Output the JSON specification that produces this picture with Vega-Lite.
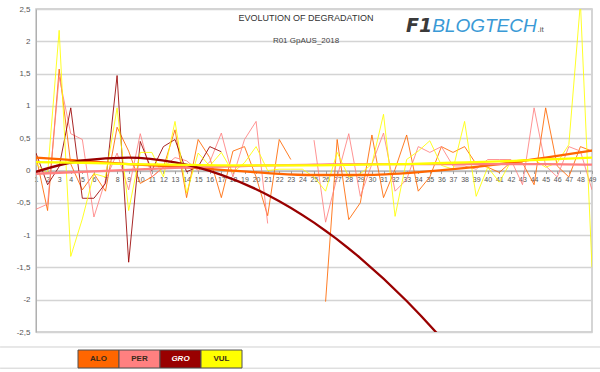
{
  "$schema": "https://vega.github.io/schema/vega-lite/v6.json",
  "width": 556,
  "height": 323,
  "autosize": {"type": "none"},
  "padding": {"left": 36, "top": 9, "right": 8, "bottom": 40},
  "background": "white",
  "config": {
    "view": {"stroke": "#c8c8c8", "strokeWidth": 1.5},
    "font": "Liberation Sans",
    "axisX": {"labelOverlap": false, "labelFlush": false, "labelBound": false},
    "axisY": {"labelOverlap": false, "labelFlush": false, "labelBound": false}
  },
  "title": {
    "text": "EVOLUTION OF DEGRADATION",
    "subtitle": "R01 GpAUS_2018",
    "anchor": "middle",
    "frame": "group",
    "offset": -40,
    "dx": -8,
    "fontSize": 9,
    "fontWeight": "normal",
    "color": "#333333",
    "font": "Liberation Sans",
    "subtitleFont": "Liberation Sans",
    "subtitleFontSize": 8,
    "subtitleColor": "#444444",
    "subtitlePadding": 14
  },
  "datasets": {
    "series": [
      {"x": 1, "ALO": 0.22, "PER": -0.6, "GRO": 0.27, "VUL": 0.1},
      {"x": 2, "ALO": -0.62, "PER": -0.52, "GRO": -0.22, "VUL": -0.05},
      {"x": 3, "ALO": 1.57, "PER": 1.45, "GRO": 0.06, "VUL": 2.17},
      {"x": 4, "ALO": 0.1, "PER": 0.57, "GRO": 0.97, "VUL": -1.33},
      {"x": 5, "ALO": -0.3, "PER": 0.48, "GRO": -0.43, "VUL": -0.75},
      {"x": 6, "ALO": -0.05, "PER": -0.72, "GRO": -0.43, "VUL": -0.05},
      {"x": 7, "ALO": -0.32, "PER": -0.15, "GRO": -0.2, "VUL": -0.1},
      {"x": 8, "ALO": 0.67, "PER": 0.27, "GRO": 1.47, "VUL": 0.97},
      {"x": 9, "ALO": 0.3, "PER": -0.3, "GRO": -1.42, "VUL": -0.62},
      {"x": 10, "ALO": -0.2, "PER": 0.57, "GRO": 0.45, "VUL": 0.28},
      {"x": 11, "ALO": -0.1, "PER": -0.1, "GRO": 0.0, "VUL": 0.28},
      {"x": 12, "ALO": 0.05, "PER": 0.05, "GRO": 0.37, "VUL": -0.1},
      {"x": 13, "ALO": 0.63, "PER": 0.2, "GRO": 0.48, "VUL": 0.76},
      {"x": 14, "ALO": -0.42, "PER": 0.15, "GRO": -0.02, "VUL": -0.35},
      {"x": 15, "ALO": 0.48, "PER": 0.0, "GRO": 0.06, "VUL": 0.27},
      {"x": 16, "ALO": 0.2, "PER": 0.13, "GRO": 0.37, "VUL": 0.07},
      {"x": 17, "ALO": -0.42, "PER": 0.58, "GRO": 0.29, "VUL": 0.28},
      {"x": 18, "ALO": 0.3, "PER": -0.1, "GRO": null, "VUL": -0.03},
      {"x": 19, "ALO": 0.37, "PER": 0.48, "GRO": null, "VUL": 0.12},
      {"x": 20, "ALO": -0.1, "PER": 0.76, "GRO": null, "VUL": 0.37},
      {"x": 21, "ALO": -0.7, "PER": -0.82, "GRO": null, "VUL": 0.0},
      {"x": 22, "ALO": 0.48, "PER": null, "GRO": null, "VUL": 0.02},
      {"x": 23, "ALO": 0.17, "PER": null, "GRO": null, "VUL": 0.02},
      {"x": 24, "ALO": null, "PER": null, "GRO": null, "VUL": 0.02},
      {"x": 25, "ALO": null, "PER": 0.47, "GRO": null, "VUL": -0.1},
      {"x": 26, "ALO": -2.03, "PER": -0.8, "GRO": null, "VUL": -0.32},
      {"x": 27, "ALO": 0.48, "PER": -0.1, "GRO": null, "VUL": 0.28},
      {"x": 28, "ALO": -0.76, "PER": 0.57, "GRO": null, "VUL": -0.1},
      {"x": 29, "ALO": -0.5, "PER": -0.4, "GRO": null, "VUL": -0.05},
      {"x": 30, "ALO": 0.55, "PER": 0.1, "GRO": null, "VUL": 0.1},
      {"x": 31, "ALO": -0.42, "PER": 0.58, "GRO": null, "VUL": 0.87},
      {"x": 32, "ALO": 0.02, "PER": -0.32, "GRO": null, "VUL": -0.71},
      {"x": 33, "ALO": 0.55, "PER": -0.14, "GRO": null, "VUL": 0.17},
      {"x": 34, "ALO": -0.32, "PER": 0.37, "GRO": null, "VUL": 0.3},
      {"x": 35, "ALO": -0.1, "PER": 0.28, "GRO": null, "VUL": 0.46},
      {"x": 36, "ALO": 0.37, "PER": 0.37, "GRO": null, "VUL": 0.08},
      {"x": 37, "ALO": 0.28, "PER": 0.07, "GRO": null, "VUL": 0.02},
      {"x": 38, "ALO": 0.37, "PER": 0.07, "GRO": null, "VUL": 0.76},
      {"x": 39, "ALO": 0.1, "PER": 0.02, "GRO": null, "VUL": -0.4},
      {"x": 40, "ALO": 0.05, "PER": 0.17, "GRO": null, "VUL": 0.05},
      {"x": 41, "ALO": -0.03, "PER": 0.17, "GRO": null, "VUL": -0.18},
      {"x": 42, "ALO": 0.13, "PER": 0.17, "GRO": null, "VUL": 0.14},
      {"x": 43, "ALO": 0.12, "PER": -0.22, "GRO": null, "VUL": 0.17},
      {"x": 44, "ALO": -0.22, "PER": 0.97, "GRO": null, "VUL": 0.17},
      {"x": 45, "ALO": 0.97, "PER": 0.07, "GRO": null, "VUL": 0.05},
      {"x": 46, "ALO": 0.07, "PER": -0.1, "GRO": null, "VUL": 0.12},
      {"x": 47, "ALO": -0.1, "PER": 0.37, "GRO": null, "VUL": 0.4},
      {"x": 48, "ALO": 0.37, "PER": 0.3, "GRO": null, "VUL": 2.6},
      {"x": 49, "ALO": 0.3, "PER": -0.3, "GRO": null, "VUL": -1.5}
    ],
    "trend": [
      {"x": 1, "ALO": 0.2, "PER": -0.05, "GRO": -0.02, "VUL": 0.13},
      {"x": 5, "ALO": 0.15, "PER": -0.02, "GRO": 0.155, "VUL": 0.12},
      {"x": 9, "ALO": 0.1, "PER": 0.01, "GRO": 0.2, "VUL": 0.1},
      {"x": 13, "ALO": 0.06, "PER": 0.04, "GRO": 0.125, "VUL": 0.09},
      {"x": 17, "ALO": 0.01, "PER": 0.06, "GRO": -0.067, "VUL": 0.08},
      {"x": 21, "ALO": -0.04, "PER": 0.08, "GRO": -0.378, "VUL": 0.08},
      {"x": 25, "ALO": -0.07, "PER": 0.09, "GRO": -0.807, "VUL": 0.08},
      {"x": 29, "ALO": -0.07, "PER": 0.1, "GRO": -1.355, "VUL": 0.09},
      {"x": 33, "ALO": -0.04, "PER": 0.1, "GRO": -2.02, "VUL": 0.1},
      {"x": 37, "ALO": 0.02, "PER": 0.1, "GRO": -2.805, "VUL": 0.12},
      {"x": 41, "ALO": 0.1, "PER": 0.1, "GRO": -3.71, "VUL": 0.14},
      {"x": 45, "ALO": 0.2, "PER": 0.1, "GRO": -4.73, "VUL": 0.17},
      {"x": 49, "ALO": 0.31, "PER": 0.09, "GRO": -5.83, "VUL": 0.2}
    ],
    "legend": [
      {"series": "ALO"},
      {"series": "PER"},
      {"series": "GRO"},
      {"series": "VUL"}
    ]
  },
  "resolve": {"scale": {"x": "independent"}},
  "layer": [
    {
      "layer": [
        {
          "data": {"name": "series"},
          "transform": [{"fold": ["ALO", "PER", "GRO", "VUL"], "as": ["series", "v"]}],
          "mark": {"type": "line", "strokeWidth": 1, "clip": true, "opacity": 0.85},
          "encoding": {
            "x": {
              "field": "x",
              "type": "quantitative",
              "scale": {"domain": [1, 49], "nice": false, "zero": false},
              "axis": {
                "values": [1,2,3,4,5,6,7,8,9,10,11,12,13,14,15,16,17,18,19,20,21,22,23,24,25,26,27,28,29,30,31,32,33,34,35,36,37,38,39,40,41,42,43,44,45,46,47,48,49],
                "tickCount": 60,
                "offset": -161.5,
                "format": "d",
                "domainColor": "#a0a0a0",
                "tickColor": "#a0a0a0",
                "tickSize": 3,
                "labelFontSize": 7,
                "labelColor": "#555555",
                "labelPadding": 2,
                "labelAngle": 0,
                "grid": false,
                "title": null
              }
            },
            "y": {
              "field": "v",
              "type": "quantitative",
              "scale": {"domain": [-2.5, 2.5], "nice": false, "zero": false},
              "axis": {
                "values": [-2.5, -2, -1.5, -1, -0.5, 0, 0.5, 1, 1.5, 2, 2.5],
                "tickCount": 20,
                "grid": true,
                "gridColor": "#d4d4d4",
                "gridWidth": 1.5,
                "ticks": false,
                "labelPadding": 6,
                "labelFontSize": 8,
                "labelColor": "#555555",
                "domainColor": "#b0b0b0",
                "title": null,
                "labelExpr": "replace(toString(datum.value), '.', ',')"
              }
            },
            "color": {
              "field": "series",
              "type": "nominal",
              "scale": {"domain": ["ALO", "PER", "GRO", "VUL"], "range": ["#FF6600", "#FF8080", "#990000", "#FFFF00"]},
              "legend": null
            }
          }
        },
        {
          "data": {"name": "trend"},
          "transform": [{"fold": ["ALO", "PER", "GRO", "VUL"], "as": ["series", "v"]}],
          "mark": {"type": "line", "strokeWidth": 2.3, "clip": true, "interpolate": "monotone"},
          "encoding": {
            "x": {"field": "x", "type": "quantitative"},
            "y": {"field": "v", "type": "quantitative"},
            "color": {"field": "series", "type": "nominal", "legend": null}
          }
        },
        {
          "data": {"values": [{"label": "F1"}]},
          "mark": {"type": "text", "align": "right", "baseline": "alphabetic", "font": "DejaVu Sans", "fontSize": 19, "fontWeight": "bold", "fontStyle": "italic", "color": "#3a3a3a"},
          "encoding": {
            "x": {"datum": 35.2, "type": "quantitative"},
            "y": {"datum": 2.14, "type": "quantitative"},
            "text": {"field": "label"}
          }
        },
        {
          "data": {"values": [{"label": "BLOGTECH"}]},
          "mark": {"type": "text", "align": "left", "baseline": "alphabetic", "font": "Liberation Sans", "fontSize": 19, "fontStyle": "italic", "color": "#3a9ad6"},
          "encoding": {
            "x": {"datum": 35.2, "type": "quantitative"},
            "y": {"datum": 2.14, "type": "quantitative"},
            "text": {"field": "label"}
          }
        },
        {
          "data": {"values": [{"label": ".it"}]},
          "mark": {"type": "text", "align": "left", "baseline": "alphabetic", "font": "Liberation Sans", "fontSize": 8, "color": "#555555"},
          "encoding": {
            "x": {"datum": 44.3, "type": "quantitative"},
            "y": {"datum": 2.14, "type": "quantitative"},
            "text": {"field": "label"}
          }
        },
        {
          "data": {"values": [{"level": -2.732}, {"level": -3.06}]},
          "mark": {"type": "rule", "color": "#d0d0d0", "strokeWidth": 1},
          "encoding": {
            "x": {"datum": -2.1, "type": "quantitative"},
            "x2": {"datum": 49.7},
            "y": {"field": "level", "type": "quantitative"}
          }
        }
      ]
    },
    {
      "data": {"name": "legend"},
      "encoding": {
        "x": {
          "field": "series",
          "type": "nominal",
          "sort": null,
          "scale": {"domain": ["ALO", "PER", "GRO", "VUL"], "range": [42, 206], "paddingInner": 0, "paddingOuter": 0},
          "axis": null
        }
      },
      "layer": [
        {
          "mark": {"type": "rect", "stroke": "#505050", "strokeWidth": 1},
          "encoding": {
            "y": {"datum": -2.779, "type": "quantitative"},
            "y2": {"datum": -3.057},
            "color": {"field": "series", "type": "nominal", "legend": null}
          }
        },
        {
          "transform": [{"filter": "datum.series !== 'GRO'"}],
          "mark": {"type": "text", "fontSize": 8, "fontWeight": "bold", "color": "#3a2a1a", "baseline": "middle", "align": "center"},
          "encoding": {
            "y": {"datum": -2.918, "type": "quantitative"},
            "text": {"field": "series"}
          }
        },
        {
          "transform": [{"filter": "datum.series === 'GRO'"}],
          "mark": {"type": "text", "fontSize": 8, "fontWeight": "bold", "fontStyle": "italic", "color": "#ffffff", "baseline": "middle", "align": "center"},
          "encoding": {
            "y": {"datum": -2.918, "type": "quantitative"},
            "text": {"field": "series"}
          }
        }
      ]
    }
  ]
}
